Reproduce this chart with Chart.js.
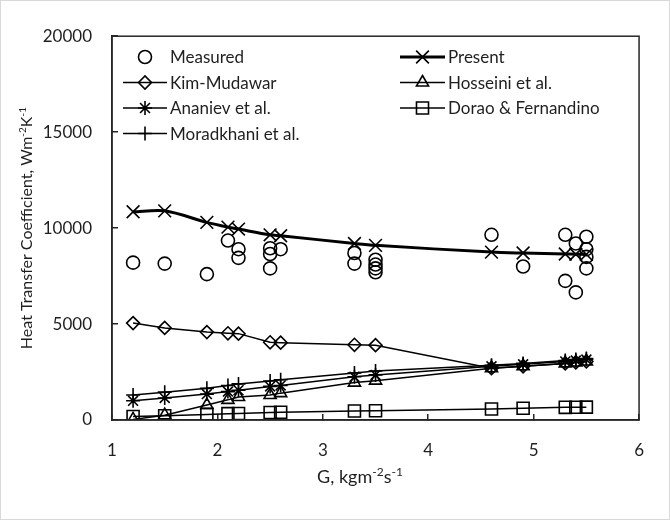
<!DOCTYPE html>
<html><head><meta charset="utf-8">
<script src="https://cdn.jsdelivr.net/npm/chart.js@4/dist/chart.umd.min.js"></script>
<style>html,body{margin:0;padding:0;background:#fff}#wrap{width:670px;height:520px;position:relative}</style>
</head><body><div id="wrap"><canvas id="c" width="670" height="520"></canvas></div>
<script>
// ---- data ----
const gModel = [1.2, 1.5, 1.9, 2.1, 2.2, 2.5, 2.6, 3.3, 3.5, 4.6, 4.9, 5.3, 5.4, 5.5];
const present    = [10850, 10900, 10300, 10050, 9950, 9650, 9600, 9200, 9100, 8750, 8700, 8650, 8640, 8630];
const kimMudawar = [5050, 4800, 4580, 4520, 4500, 4050, 4030, 3920, 3900, 2700, 2800, 2950, 3000, 3050];
const hosseini   = [30, 250, 780, 1050, 1200, 1300, 1400, 1950, 2050, 2700, 2800, 2950, 3000, 3050];
const ananiev    = [1000, 1150, 1350, 1480, 1550, 1750, 1800, 2250, 2350, 2800, 2900, 3050, 3100, 3150];
const moradkhani = [1300, 1450, 1650, 1800, 1880, 2030, 2100, 2450, 2550, 2850, 2950, 3100, 3150, 3200];
const dorao      = [180, 220, 290, 330, 340, 390, 400, 470, 480, 570, 610, 660, 665, 670];
const gMeasured  = [1.2, 1.5, 1.9, 2.1, 2.2, 2.2, 2.5, 2.5, 2.5, 2.6, 3.3, 3.3, 3.5, 3.5, 3.5, 3.5, 4.6, 4.9, 5.3, 5.3, 5.4, 5.4, 5.5, 5.5, 5.5, 5.5];
const measured   = [8200, 8150, 7600, 9350, 8900, 8450, 8950, 8650, 7900, 8900, 8700, 8150, 8350, 8100, 7900, 7700, 9650, 8000, 9650, 7250, 9200, 6650, 9550, 8900, 8500, 7900];
const xTicks = [1, 2, 3, 4, 5, 6];
const yTicks = [0, 5000, 10000, 15000, 20000];
const seriesNames = ['Measured', 'Present', 'Kim-Mudawar', 'Hosseini et al.', 'Ananiev et al.', 'Dorao & Fernandino', 'Moradkhani et al.'];

const FONT = 'Lato, "Open Sans", sans-serif';
const INK = '#000000';
const TXT = '#1f1f1f';

function pts(xs, ys) { return xs.map((x, i) => ({x: x, y: ys[i]})); }

const styles = {
  'Measured':          {pointStyle: 'circle',   radius: 6.5, showLine: false, lw: 0},
  'Present':           {pointStyle: 'crossRot', radius: 9,   showLine: true,  lw: 3, tension: 0.3},
  'Kim-Mudawar':       {pointStyle: 'rectRot',  radius: 6.5, showLine: true,  lw: 1.5},
  'Hosseini et al.':   {pointStyle: 'triangle', radius: 7,   showLine: true,  lw: 1.5},
  'Ananiev et al.':    {pointStyle: 'star',     radius: 7,   showLine: true,  lw: 1.5},
  'Dorao & Fernandino':{pointStyle: 'rect',     radius: 8.5, showLine: true,  lw: 1.5},
  'Moradkhani et al.': {pointStyle: 'cross',    radius: 7,   showLine: true,  lw: 1.5}
};
const seriesData = {
  'Measured': pts(gMeasured, measured),
  'Present': pts(gModel, present),
  'Kim-Mudawar': pts(gModel, kimMudawar),
  'Hosseini et al.': pts(gModel, hosseini),
  'Ananiev et al.': pts(gModel, ananiev),
  'Dorao & Fernandino': pts(gModel, dorao),
  'Moradkhani et al.': pts(gModel, moradkhani)
};

const datasets = seriesNames.map(n => {
  const s = styles[n];
  return {
    label: n,
    data: seriesData[n],
    showLine: s.showLine,
    borderColor: INK,
    backgroundColor: 'rgba(0,0,0,0)',
    borderWidth: s.lw,
    tension: s.tension || 0,
    pointStyle: s.pointStyle,
    pointRadius: s.radius,
    pointBorderColor: INK,
    pointBackgroundColor: 'rgba(0,0,0,0)',
    pointBorderWidth: 1.6,
    fill: false
  };
});

function drawRich(ctx, segs, x, y, size, align) {
  const supSize = Math.round(size * 0.65);
  let total = 0;
  segs.forEach(s => { ctx.font = (s.sup ? supSize : size) + 'px ' + FONT; s.w = ctx.measureText(s.t).width; total += s.w; });
  let cx = align === 'center' ? x - total / 2 : x;
  ctx.textBaseline = 'alphabetic';
  ctx.textAlign = 'left';
  segs.forEach(s => {
    ctx.font = (s.sup ? supSize : size) + 'px ' + FONT;
    ctx.fillText(s.t, cx, s.sup ? y - size * 0.38 : y);
    cx += s.w;
  });
}

const decor = {
  id: 'decor',
  afterDraw(chart) {
    const ctx = chart.ctx;
    const a = chart.chartArea;
    ctx.save();
    // outer border
    ctx.strokeStyle = '#d9d9d9';
    ctx.lineWidth = 1;
    ctx.strokeRect(0.5, 0.5, chart.width - 1, chart.height - 1);
    // plot frame
    ctx.strokeStyle = '#262626';
    ctx.lineWidth = 1.5;
    ctx.strokeRect(a.left, a.top, a.right - a.left, a.bottom - a.top);
    // axis titles
    ctx.fillStyle = TXT;
    drawRich(ctx, [{t: 'G, kgm'}, {t: '-2', sup: true}, {t: 's'}, {t: '-1', sup: true}], 360, 483, 18, 'center');
    ctx.save();
    ctx.translate(32, (a.top + a.bottom) / 2);
    ctx.rotate(-Math.PI / 2);
    drawRich(ctx, [{t: 'Heat Transfer Coefficient, Wm'}, {t: '-2', sup: true}, {t: 'K'}, {t: '-1', sup: true}], 0, 0, 16, 'center');
    ctx.restore();
    // legend
    const rows = [57, 82.5, 108, 133.5];
    const layout = [
      {n: 'Measured', col: 0, row: 0, line: false},
      {n: 'Present', col: 1, row: 0, line: true},
      {n: 'Kim-Mudawar', col: 0, row: 1, line: true},
      {n: 'Hosseini et al.', col: 1, row: 1, line: true},
      {n: 'Ananiev et al.', col: 0, row: 2, line: true},
      {n: 'Dorao & Fernandino', col: 1, row: 2, line: true},
      {n: 'Moradkhani et al.', col: 0, row: 3, line: true}
    ];
    const cols = [{x0: 123, x1: 167, tx: 170}, {x0: 400, x1: 445, tx: 448}];
    layout.forEach(it => {
      const s = styles[it.n];
      const c = cols[it.col];
      const y = rows[it.row];
      const mx = (c.x0 + c.x1) / 2;
      ctx.strokeStyle = INK;
      ctx.fillStyle = 'rgba(0,0,0,0)';
      if (it.line) {
        ctx.lineWidth = s.lw;
        ctx.beginPath(); ctx.moveTo(c.x0, y); ctx.lineTo(c.x1, y); ctx.stroke();
      }
      ctx.lineWidth = 1.6;
      Chart.helpers.drawPoint(ctx, {pointStyle: s.pointStyle, radius: s.radius, rotation: 0, borderWidth: 1.6}, mx, y);
      ctx.fillStyle = TXT;
      ctx.font = '17px ' + FONT;
      ctx.textAlign = 'left';
      ctx.textBaseline = 'middle';
      ctx.fillText(it.n, c.tx, y + 1);
    });
    ctx.restore();
  }
};

new Chart(document.getElementById('c'), {
  type: 'scatter',
  data: {datasets: datasets},
  options: {
    responsive: false,
    animation: false,
    devicePixelRatio: 1,
    layout: {padding: {left: 0, right: 27, top: 36, bottom: 0}},
    plugins: {legend: {display: false}, tooltip: {enabled: false}},
    scales: {
      x: {
        type: 'linear', min: 1, max: 6,
        afterFit(s) { s.height = 100; },
        afterBuildTicks(s) { s.ticks = xTicks.map(v => ({value: v})); },
        grid: {drawOnChartArea: false, drawTicks: true, tickLength: -6, color: '#262626', lineWidth: 1.5},
        border: {display: true, color: '#262626', width: 1.5},
        ticks: {padding: 26, color: TXT, font: {family: FONT, size: 17}, maxRotation: 0}
      },
      y: {
        type: 'linear', min: 0, max: 20000,
        afterFit(s) { s.width = 112; },
        afterBuildTicks(s) { s.ticks = yTicks.map(v => ({value: v})); },
        grid: {drawOnChartArea: false, drawTicks: true, tickLength: -6, color: '#262626', lineWidth: 1.5},
        border: {display: true, color: '#262626', width: 1.5},
        ticks: {padding: 26, color: TXT, font: {family: FONT, size: 17}, callback: v => String(v)}
      }
    }
  },
  plugins: [decor]
});
</script>
</body></html>
